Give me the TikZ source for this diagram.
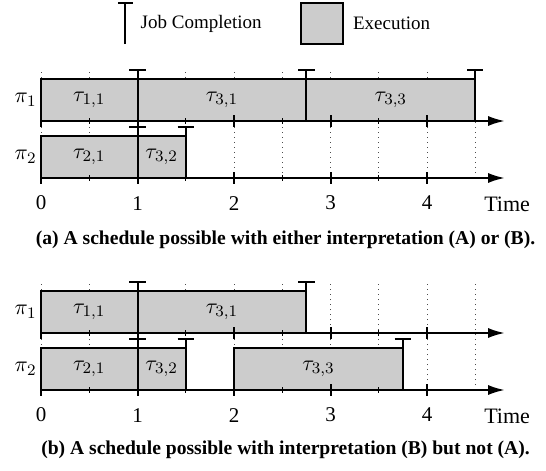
\documentclass[tikz,border=0pt]{standalone}
\usepackage{fontspec}
\setmainfont{Liberation Serif}
\usetikzlibrary{arrows.meta}

\begin{document}
\begin{tikzpicture}[x=48.25pt, y=28.5pt, every node/.style={font=\fontsize{10.5}{12}\selectfont}, >={Latex[length=8.5pt,width=5pt]},
	axis/.style={->, line width=1.2pt},
	exec/.style={draw, line width=0.8pt, fill=black!20},
	done/.style={line width=1pt},
	tgrid/.style={black!70, dotted, line width=0.5pt},
	job/.style={font=\fontsize{11}{13}\selectfont},
	legend/.style={anchor=west, font=\fontsize{9.5}{11}\selectfont},
	capt/.style={font=\fontsize{9.8}{11}\selectfont\bfseries}]
	\useasboundingbox (-0.425,-1.421) rectangle (5.233,6.842);
	% legend
	\draw[done] (0.875,6.07) -- (0.875,6.789);
	\draw[done] (0.797,6.789) -- (0.953,6.789);
	\node[legend] (lgdone) at (0.96,6.43) {Job Completion};
	\draw[exec] (2.694,6.07) rectangle (3.13,6.789);
	\node[legend] (lgexec) at (3.16,6.43) {Execution};
	% (a)
	\begin{scope}[yshift=106pt]
		\foreach \t in {0,0.5,...,4.5} {\draw[tgrid] (\t,0) -- (\t,1.9);}
		\draw[exec] (0,1) rectangle (1,1.74);
		\draw[exec] (1,1) rectangle (2.75,1.74);
		\draw[exec] (2.75,1) rectangle (4.5,1.74);
		\draw[exec] (0,0) rectangle (1,0.74);
		\draw[exec] (1,0) rectangle (1.5,0.74);
		\node[job] (a11) at (0.5,1.37) {$\tau_{1,1}$};
		\node[job] (a31) at (1.875,1.37) {$\tau_{3,1}$};
		\node[job] (a33) at (3.625,1.37) {$\tau_{3,3}$};
		\node[job] (a21) at (0.5,0.37) {$\tau_{2,1}$};
		\node[job] (a32) at (1.25,0.37) {$\tau_{3,2}$};
		\foreach \t/\y in {1/1, 2.75/1, 4.5/1, 1/0, 1.5/0} {
			\draw[done] (\t,\y) -- (\t,\y+0.9);
			\draw[done] (\t-0.085,\y+0.9) -- (\t+0.085,\y+0.9);
		}
		\foreach \y in {0,1} {
			\draw[axis] (0,\y) -- (4.81,\y);
			\foreach \t in {0,...,4} {\draw[line width=1pt] (\t,\y-0.1) -- (\t,\y+0.1);}
			\foreach \t in {0.5,1.5,2.5,3.5} {\draw[line width=0.5pt] (\t,\y-0.05) -- (\t,\y+0.05);}
		}
		\node[job, anchor=east, inner sep=2pt] (ap1) at (0,1.37) {$\pi_1$};
		\node[job, anchor=east, inner sep=2pt] (ap2) at (0,0.37) {$\pi_2$};
		\foreach \t in {0,...,4} {\node (at\t) at (\t,-0.44) {\t};}
		\node[font=\fontsize{11}{13}\selectfont] (atime) at (4.83,-0.47) {Time};
		\node[capt] (capa) at (2.534,-1.088) {(a) A schedule possible with either interpretation (A) or (B).};
	\end{scope}
	% (b)
	\foreach \t in {0,0.5,...,4.5} {\draw[tgrid] (\t,0) -- (\t,1.9);}
	\draw[exec] (0,1) rectangle (1,1.74);
	\draw[exec] (1,1) rectangle (2.75,1.74);
	\draw[exec] (0,0) rectangle (1,0.74);
	\draw[exec] (1,0) rectangle (1.5,0.74);
	\draw[exec] (2,0) rectangle (3.75,0.74);
	\node[job] (b11) at (0.5,1.37) {$\tau_{1,1}$};
	\node[job] (b31) at (1.875,1.37) {$\tau_{3,1}$};
	\node[job] (b21) at (0.5,0.37) {$\tau_{2,1}$};
	\node[job] (b32) at (1.25,0.37) {$\tau_{3,2}$};
	\node[job] (b33) at (2.875,0.37) {$\tau_{3,3}$};
	\foreach \t/\y in {1/1, 2.75/1, 1/0, 1.5/0, 3.75/0} {
		\draw[done] (\t,\y) -- (\t,\y+0.9);
		\draw[done] (\t-0.085,\y+0.9) -- (\t+0.085,\y+0.9);
	}
	\foreach \y in {0,1} {
		\draw[axis] (0,\y) -- (4.81,\y);
		\foreach \t in {0,...,4} {\draw[line width=1pt] (\t,\y-0.1) -- (\t,\y+0.1);}
		\foreach \t in {0.5,1.5,2.5,3.5} {\draw[line width=0.5pt] (\t,\y-0.05) -- (\t,\y+0.05);}
	}
	\node[job, anchor=east, inner sep=2pt] (bp1) at (0,1.37) {$\pi_1$};
	\node[job, anchor=east, inner sep=2pt] (bp2) at (0,0.37) {$\pi_2$};
	\foreach \t in {0,...,4} {\node (bt\t) at (\t,-0.44) {\t};}
	\node[font=\fontsize{11}{13}\selectfont] (btime) at (4.83,-0.47) {Time};
	\node[capt] (capb) at (2.534,-1.053) {(b) A schedule possible with interpretation (B) but not (A).};
\end{tikzpicture}
\end{document}
